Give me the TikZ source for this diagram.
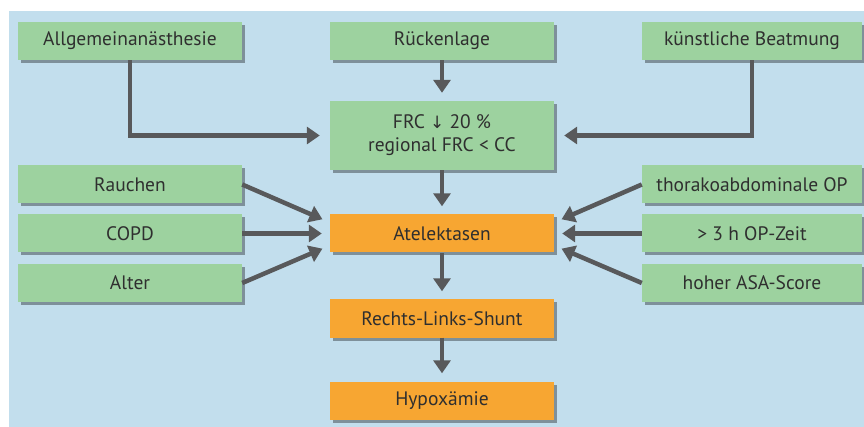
\documentclass[tikz,border=0pt]{standalone}
\usepackage{fontspec}
\setmainfont{PT Sans}
\newfontfamily\symfont{DejaVu Sans}
\usetikzlibrary{arrows.meta,shadows}
\definecolor{bgblue}{HTML}{C2DEED}
\definecolor{boxgreen}{HTML}{9DD29F}
\definecolor{boxorange}{HTML}{F7A632}
\definecolor{arrowgray}{HTML}{58595B}
\definecolor{textgray}{HTML}{2F2F2F}

\begin{document}
\begin{tikzpicture}[x=1pt, y=-1pt,
  box/.style={minimum width=224pt, minimum height=38pt, inner sep=0pt,
    text=textgray, font=\fontsize{19.5}{23}\selectfont, align=center,
    drop shadow={shadow xshift=3pt, shadow yshift=-3pt, opacity=0.35, fill=black}},
  greenbox/.style={box, fill=boxgreen},
  orangebox/.style={box, fill=boxorange},
  arr/.style={draw=arrowgray, line width=4.5pt,
    -{Triangle[width=17pt,length=13pt]}, shorten >=8pt}]
\useasboundingbox (0, 0) rectangle (864, 427);
\fill [bgblue] (9, 11) rectangle (864, 427);

\node [greenbox] (allg)   at (130, 41)   {Allgemeinanästhesie};
\node [greenbox] (rueck)  at (442, 41)   {Rückenlage};
\node [greenbox, minimum width=220pt] (kuenst) at (752, 41) {künstliche Beatmung};
\node [greenbox, minimum height=69pt] (frc) at (442, 135.5)
  {FRC {\symfont\fontsize{17}{20}\selectfont ↓} 20~\%\\regional FRC < CC};

\node [greenbox] (rauch)  at (130, 184.5) {Rauchen};
\node [greenbox] (copd)   at (130, 233.5) {COPD};
\node [greenbox] (alter)  at (130, 283)   {Alter};
\node [orangebox] (atel)  at (442, 233.5) {Atelektasen};
\node [greenbox, minimum width=220pt] (thor) at (752, 184.5) {thorakoabdominale OP};
\node [greenbox, minimum width=220pt] (zeit) at (752, 233.5) {> 3 h OP-Zeit};
\node [greenbox, minimum width=220pt] (asa)  at (752, 283)   {hoher ASA-Score};
\node [orangebox] (shunt) at (442, 318.5) {Rechts-Links-Shunt};
\node [orangebox] (hypo)  at (442, 400.5) {Hypoxämie};

\draw [arr, shorten >=10pt] (allg.south) |- (frc.west);
\draw [arr, shorten >=10pt] (kuenst.south) |- (frc.east);
\draw [arr] (rueck) -- (frc);
\draw [arr] (frc) -- (atel);
\draw [arr] (atel) -- (shunt);
\draw [arr] (shunt) -- (hypo);

\draw [arr] (rauch.east) -- ([yshift=11pt]atel.west);
\draw [arr] (copd.east)  -- (atel.west);
\draw [arr] (alter.east) -- ([yshift=-12pt]atel.west);
\draw [arr] (thor.west)  -- ([yshift=11pt]atel.east);
\draw [arr] (zeit.west)  -- (atel.east);
\draw [arr] (asa.west)   -- ([yshift=-12pt]atel.east);
\end{tikzpicture}
\end{document}
